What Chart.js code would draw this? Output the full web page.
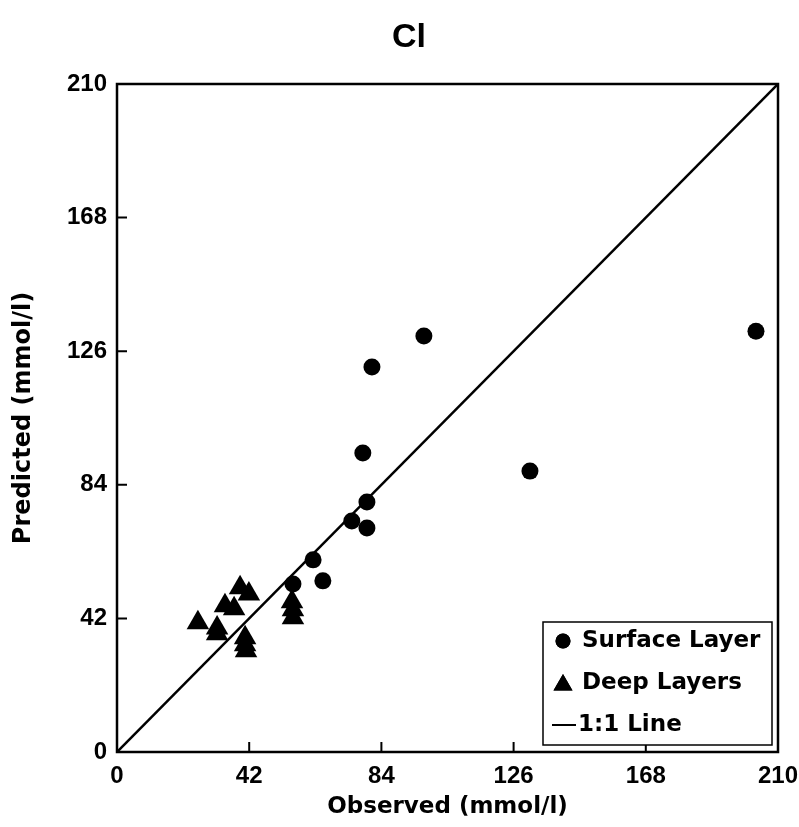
<!DOCTYPE html>
<html>
<head>
<meta charset="utf-8">
<script src="https://cdn.jsdelivr.net/npm/chart.js@4.4.1/dist/chart.umd.min.js"></script>
<style>
  html, body { margin: 0; padding: 0; background: #fff; }
  #wrap { width: 799px; height: 827px; }
</style>
</head>
<body>
<div id="wrap"><canvas id="myChart" width="799" height="827"></canvas></div>
<script>
// values (mmol/l)
var surfaceObserved  = [97.5, 81.0, 78.1, 79.4, 79.4, 74.6, 62.3, 65.4, 55.9, 203.0, 131.2];
var surfacePredicted = [130.8, 121.0, 94.0, 78.6, 70.4, 72.6, 60.4, 53.8, 52.8, 132.3, 88.3];

var deepObserved  = [25.7, 31.8, 31.8, 34.3, 37.2, 39.1, 41.9, 40.7, 40.7, 41.0, 55.6, 55.9, 55.9];
var deepPredicted = [40.6, 39.0, 37.2, 46.0, 45.0, 51.6, 49.7, 35.9, 33.7, 31.8, 47.2, 44.7, 42.2];

var lineEnds = [0, 210];
var tickValues = [0, 42, 84, 126, 168, 210];
var chartTitle = 'Cl';

var fontName = "'Liberation Sans', Arial, sans-serif";
var wideFont = "'DejaVu Sans', Verdana, sans-serif";

function toPoints(xs, ys) {
  var pts = [];
  for (var i = 0; i < xs.length; i++) {
    pts.push({x: xs[i], y: ys[i]});
  }
  return pts;
}

// frame, inward tick marks and the title (a bit right of centre, like the original)
var framePlugin = {
  id: 'frame',
  afterDraw: function(chart) {
    var ctx = chart.ctx;
    var a = chart.chartArea;
    var xs = chart.scales.x, ys = chart.scales.y;
    ctx.save();
    ctx.strokeStyle = '#000';
    ctx.lineWidth = 2.5;
    ctx.strokeRect(a.left, a.top, a.right - a.left, a.bottom - a.top);
    ctx.lineWidth = 2;
    ctx.beginPath();
    tickValues.forEach(function(v) {
      var px = xs.getPixelForValue(v);
      ctx.moveTo(px, a.bottom);
      ctx.lineTo(px, a.bottom - 10);
      var py = ys.getPixelForValue(v);
      ctx.moveTo(a.left, py);
      ctx.lineTo(a.left + 10, py);
    });
    ctx.stroke();

    ctx.fillStyle = '#000';
    ctx.font = 'bold 34px ' + fontName;
    ctx.textAlign = 'center';
    ctx.textBaseline = 'middle';
    ctx.fillText(chartTitle, 409, 38);
    ctx.restore();
  }
};

// legend box in the lower right corner of the plot
var boxLegend = {
  id: 'boxLegend',
  afterDraw: function(chart) {
    var ctx = chart.ctx;
    var a = chart.chartArea;
    var w = 229, h = 123;
    var x0 = a.right - 6 - w, y0 = a.bottom - 7 - h;
    ctx.save();
    ctx.fillStyle = '#fff';
    ctx.fillRect(x0, y0, w, h);
    ctx.strokeStyle = '#000';
    ctx.lineWidth = 1.5;
    ctx.strokeRect(x0, y0, w, h);
    ctx.font = 'bold 23px ' + wideFont;
    ctx.fillStyle = '#000';
    ctx.textBaseline = 'middle';
    chart.data.datasets.forEach(function(ds, i) {
      var cy = y0 + 19 + i * 42;
      if (ds.type === 'line') {
        ctx.beginPath();
        ctx.lineWidth = 2;
        ctx.moveTo(x0 + 9, cy);
        ctx.lineTo(x0 + 33, cy);
        ctx.stroke();
        ctx.fillText(ds.label, x0 + 35, cy);
      } else {
        var cx = x0 + 20;
        var dy = ds.pointStyle === 'triangle' ? 2 : 0;
        ctx.beginPath();
        Chart.helpers.drawPoint(ctx, {pointStyle: ds.pointStyle, radius: ds.legendRadius, borderWidth: 0}, cx, cy + dy);
        ctx.fill();
        ctx.fillText(ds.label, x0 + 39, cy);
      }
    });
    ctx.restore();
  }
};

var ctx = document.getElementById('myChart');

var myChart = new Chart(ctx, {
  type: 'scatter',
  data: {
    datasets: [{
      label: 'Surface Layer',
      data: toPoints(surfaceObserved, surfacePredicted),
      pointStyle: 'circle',
      pointRadius: 8.5,
      legendRadius: 7.5,
      backgroundColor: '#000',
      borderColor: '#000',
      borderWidth: 0
    }, {
      label: 'Deep Layers',
      data: toPoints(deepObserved, deepPredicted),
      pointStyle: 'triangle',
      pointRadius: 13,
      legendRadius: 11,
      backgroundColor: '#000',
      borderColor: '#000',
      borderWidth: 0
    }, {
      type: 'line',
      label: '1:1 Line',
      data: toPoints(lineEnds, lineEnds),
      borderColor: '#000',
      borderWidth: 2.5,
      pointRadius: 0,
      fill: false
    }]
  },
  options: {
    responsive: false,
    animation: false,
    layout: { padding: { left: 0, right: 21, top: 84, bottom: 0 } },
    plugins: {
      legend: { display: false },
      tooltip: { enabled: false },
      title: { display: false }
    },
    scales: {
      x: {
        type: 'linear',
        min: 0, max: 210,
        afterBuildTicks: function(s) { s.ticks = tickValues.map(function(v) { return {value: v}; }); },
        afterFit: function(s) { s.height = 75; s.paddingLeft = 0; s.paddingRight = 0; },
        grid: { display: false, drawTicks: false },
        border: { display: false },
        ticks: { color: '#000', padding: 10, maxRotation: 0, font: { family: fontName, size: 24, weight: 'bold' } },
        title: { display: true, text: 'Observed (mmol/l)', color: '#000', padding: { top: 0, bottom: 6 },
                 font: { family: wideFont, size: 23, weight: 'bold' } }
      },
      y: {
        type: 'linear',
        min: 0, max: 210,
        afterBuildTicks: function(s) { s.ticks = tickValues.map(function(v) { return {value: v}; }); },
        afterFit: function(s) { s.width = 117; s.paddingTop = 0; s.paddingBottom = 0; },
        grid: { display: false, drawTicks: false },
        border: { display: false },
        ticks: { color: '#000', padding: 10, font: { family: fontName, size: 24, weight: 'bold' } },
        title: { display: true, text: 'Predicted (mmol/l)', color: '#000', padding: { top: 9, bottom: 0 },
                 font: { family: wideFont, size: 24, weight: 'bold' } }
      }
    }
  },
  plugins: [framePlugin, boxLegend]
});
</script>
</body>
</html>
